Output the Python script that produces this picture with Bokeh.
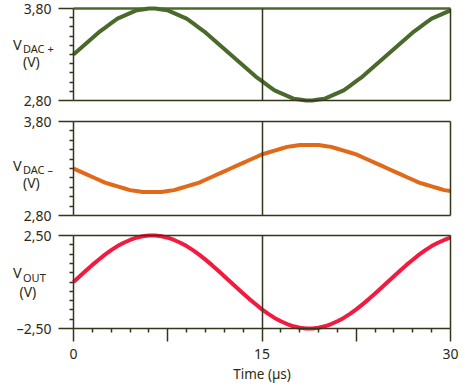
from bokeh.plotting import figure
from bokeh.layouts import column
from bokeh.models import FixedTicker, Range1d, LinearAxis
from bokeh.core.properties import value
from bokeh.embed import file_html
from bokeh.resources import INLINE

time_us = [i * 0.5 for i in range(61)]
v_dac_plus = [3.30, 3.36, 3.42, 3.48, 3.54, 3.59, 3.64, 3.69, 3.72, 3.75, 3.78,
              3.79, 3.80, 3.80, 3.79, 3.78, 3.75, 3.72, 3.69, 3.64, 3.59,
              3.54, 3.48, 3.42, 3.36, 3.30,
              3.24, 3.18, 3.12, 3.06, 3.01, 2.96, 2.91, 2.88, 2.85, 2.82,
              2.81, 2.80, 2.80, 2.81, 2.82, 2.85, 2.88, 2.91, 2.96, 3.01,
              3.06, 3.12, 3.18, 3.24, 3.30,
              3.36, 3.42, 3.48, 3.54, 3.59, 3.64, 3.69, 3.72, 3.75, 3.78]
v_dac_minus = [3.30, 3.27, 3.24, 3.21, 3.18, 3.15, 3.13, 3.11, 3.09, 3.07, 3.06,
               3.05, 3.05, 3.05, 3.05, 3.06, 3.07, 3.09, 3.11, 3.13, 3.15,
               3.18, 3.21, 3.24, 3.27, 3.30,
               3.33, 3.36, 3.39, 3.42, 3.45, 3.47, 3.49, 3.51, 3.53, 3.54,
               3.55, 3.55, 3.55, 3.55, 3.54, 3.53, 3.51, 3.49, 3.47, 3.45,
               3.42, 3.39, 3.36, 3.33, 3.30,
               3.27, 3.24, 3.21, 3.18, 3.15, 3.13, 3.11, 3.09, 3.07, 3.06]
v_out = [0.00, 0.31, 0.62, 0.92, 1.20, 1.47, 1.71, 1.93, 2.11, 2.26, 2.38,
         2.46, 2.50, 2.50, 2.46, 2.38, 2.26, 2.11, 1.93, 1.71, 1.47,
         1.20, 0.92, 0.62, 0.31, 0.00,
         -0.31, -0.62, -0.92, -1.20, -1.47, -1.71, -1.93, -2.11, -2.26, -2.38,
         -2.46, -2.50, -2.50, -2.46, -2.38, -2.26, -2.11, -1.93, -1.71, -1.47,
         -1.20, -0.92, -0.62, -0.31, 0.00,
         0.31, 0.62, 0.92, 1.20, 1.47, 1.71, 1.93, 2.11, 2.26, 2.38]

t_start, t_end = 0, 30
x_major = [0, 7.5, 15, 22.5, 30]
x_minor = [1.5, 3, 4.5, 6, 9, 10.5, 12, 13.5, 16.5, 18, 19.5, 21, 24, 25.5, 27, 28.5]
x_labels = {0: "0", 7.5: "", 15: "15", 22.5: "", 30: "30"}
x_title = "Time (\u00b5s)"
marker_time = 15

dac_ticks = [2.80, 3.80]
dac_labels = {2.8: "2,80", 3.8: "3,80"}
out_ticks = [-2.50, 2.50]
out_labels = {-2.5: "\u20132,50", 2.5: "2,50"}

FONT = "Noto Sans"
INK = "#2b2b12"
FRAME = "#35351c"
GREEN = "#4a6a2c"
ORANGE = "#e06a1a"
RED = "#f21a3f"

# layout geometry (pixels)
FIG_W = 462
AXIS_PX = 73      # where t = 0 sits
RIGHT_PX = 450    # where t = 30 sits
PX_PER_T = (RIGHT_PX - AXIS_PX) / (t_end - t_start)


def px_to_t(px):
    return t_start + (px - AXIS_PX) / PX_PER_T


def h_line(loc, color, width):
    return LinearAxis(fixed_location=loc, bounds=(t_start, t_end),
                      ticker=FixedTicker(ticks=[]),
                      axis_line_color=color, axis_line_width=width,
                      major_tick_line_color=None, minor_tick_line_color=None)


def v_line(loc, lo, hi):
    return LinearAxis(fixed_location=loc, bounds=(lo, hi),
                      ticker=FixedTicker(ticks=[]),
                      axis_line_color=FRAME, axis_line_width=1.5,
                      major_tick_line_color=None, minor_tick_line_color=None)


def make_panel(ticks, labels, ys, color, sub, lab_y, lab_x, pad_top, pad_bottom,
               box_h, show_x, top_color=FRAME):
    lo, hi = ticks
    dpp = (hi - lo) / box_h
    height = pad_top + box_h + pad_bottom
    p = figure(width=FIG_W, height=height, min_border=0,
               x_range=Range1d(px_to_t(0), px_to_t(FIG_W)),
               y_range=Range1d(lo - pad_bottom * dpp, hi + pad_top * dpp),
               x_axis_location=None, y_axis_location=None,
               output_backend="svg", toolbar_location=None)
    p.grid.visible = False
    p.outline_line_color = None
    p.background_fill_color = "white"
    p.border_fill_color = "white"

    p.line(time_us, ys, line_color=color, line_width=4, line_join="round")

    p.add_layout(v_line(marker_time, lo, hi), "left")
    p.add_layout(v_line(t_end, lo, hi), "right")

    step = (hi - lo) / 10
    minor = [round(lo + step * i, 4) for i in range(1, 10)]
    yax = LinearAxis(fixed_location=t_start, bounds=(lo, hi),
                     ticker=FixedTicker(ticks=[lo, hi], minor_ticks=minor),
                     major_label_overrides=labels,
                     axis_line_color=FRAME, axis_line_width=1.5,
                     major_tick_line_color=FRAME, major_tick_line_width=1.5,
                     major_tick_in=0, major_tick_out=15,
                     minor_tick_line_color=FRAME, minor_tick_line_width=1.5,
                     minor_tick_in=0, minor_tick_out=4,
                     major_label_standoff=7,
                     major_label_text_font=FONT,
                     major_label_text_font_size="14px",
                     major_label_text_color=INK)
    p.add_layout(yax, "left")

    if show_x:
        xax = LinearAxis(fixed_location=lo, bounds=(t_start, t_end),
                         ticker=FixedTicker(ticks=x_major, minor_ticks=x_minor),
                         major_label_overrides=x_labels,
                         axis_line_color=FRAME, axis_line_width=1.5,
                         major_tick_line_color=FRAME, major_tick_line_width=1.5,
                         major_tick_in=0, major_tick_out=13,
                         minor_tick_line_color=FRAME, minor_tick_line_width=1.5,
                         minor_tick_in=0, minor_tick_out=4,
                         major_label_standoff=7,
                         major_label_text_font=FONT,
                         major_label_text_font_size="14px",
                         major_label_text_color=INK)
        p.add_layout(xax, "below")
        p.text(x=[(t_start + t_end) / 2], y=[lo - 45 * dpp], text=[x_title],
               text_font=value(FONT), text_font_size="13.5px", text_color=INK,
               text_align="center", text_baseline="middle")
    else:
        p.add_layout(h_line(lo, FRAME, 1.5), "below")

    p.add_layout(h_line(hi, top_color, 2.5 if top_color != FRAME else 1.5), "above")

    vy, sy, py = lab_y
    vx, sx, px = lab_x
    p.text(x=[px_to_t(vx)], y=[vy], text=["V"], text_font=value(FONT),
           text_font_size="14.5px", text_color=INK,
           text_align="left", text_baseline="middle")
    p.text(x=[px_to_t(sx)], y=[sy], text=[sub], text_font=value(FONT),
           text_font_size="11px", text_color=INK,
           text_align="left", text_baseline="middle")
    p.text(x=[px_to_t(px)], y=[py], text=["(V)"], text_font=value(FONT),
           text_font_size="14px", text_color=INK,
           text_align="left", text_baseline="middle")
    return p


p1 = make_panel(dac_ticks, dac_labels, v_dac_plus, GREEN, "DAC +",
                (3.409, 3.36, 3.224), (12.5, 22.5, 22.5), 8, 10, 92, False,
                top_color=GREEN)
p2 = make_panel(dac_ticks, dac_labels, v_dac_minus, ORANGE, "DAC \u2013",
                (3.332, 3.289, 3.146), (12.5, 22.5, 22.5), 11, 10, 94, False)
p3 = make_panel(out_ticks, out_labels, v_out, RED, "OUT",
                (0.511, 0.242, -0.484), (12.5, 22.5, 19.0), 10, 60, 93, True)

layout = column(p1, p2, p3, spacing=0)
open("out.html", "w").write(file_html(layout, INLINE))
